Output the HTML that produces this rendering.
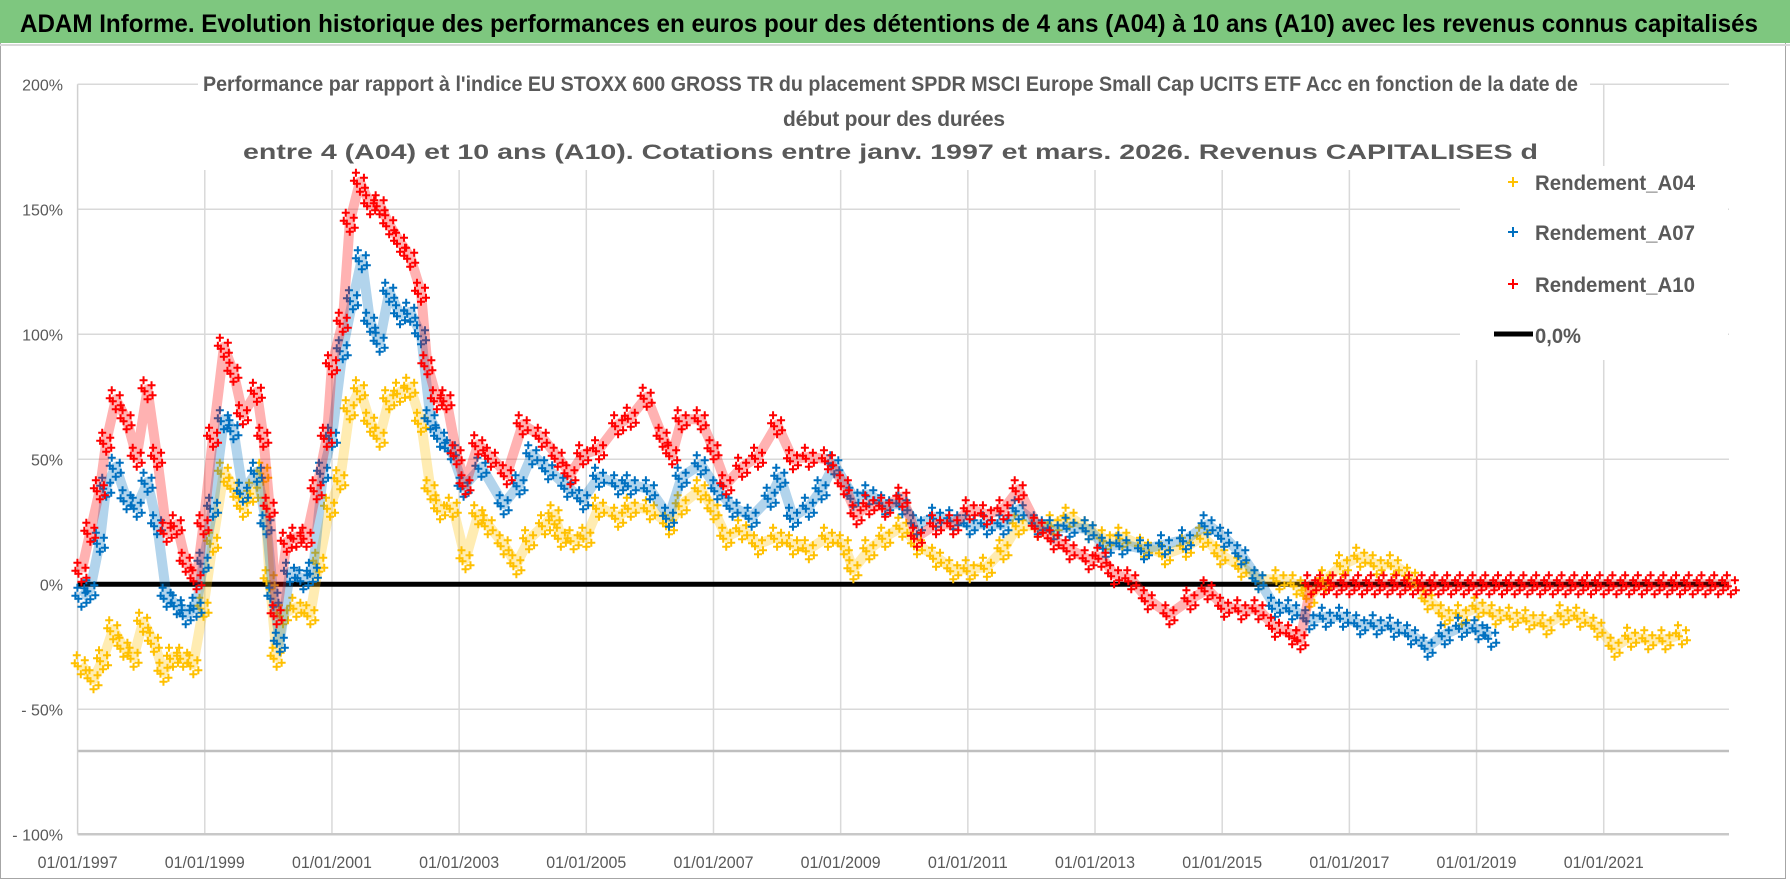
<!DOCTYPE html>
<html><head><meta charset="utf-8"><style>
html,body{margin:0;padding:0;background:#fff;}
svg{display:block;font-family:"Liberation Sans",sans-serif;}
</style></head><body>
<svg id="chart" width="1790" height="886" viewBox="0 0 1790 886">
<rect x="0" y="0" width="1790" height="886" fill="#fff"/>
<rect x="0.5" y="0.5" width="1785" height="878" fill="none" stroke="#a6a6a6"/>
<rect x="0" y="0" width="1790" height="43" fill="#7ec77f"/>
<line x1="0" y1="45" x2="1790" y2="45" stroke="#d9d9d9" stroke-width="2"/>
<text x="20" y="32" font-size="25" font-weight="bold" fill="#000" textLength="1738" lengthAdjust="spacingAndGlyphs">ADAM Informe. Evolution historique des performances en euros pour des détentions de 4 ans (A04) à 10 ans (A10) avec les revenus connus capitalisés</text>
<g id="grid"></g>
<g id="axes"></g>
<rect x="198" y="66" width="1392" height="104" fill="#fff"/>
<text x="203" y="91" font-size="21" font-weight="bold" fill="#595959" textLength="1375" lengthAdjust="spacingAndGlyphs">Performance par rapport à l'indice EU STOXX 600 GROSS TR du placement SPDR MSCI Europe Small Cap UCITS ETF Acc en fonction de la date de</text>
<text x="783" y="126" font-size="21" font-weight="bold" fill="#595959" textLength="222" lengthAdjust="spacing">début pour des durées</text>
<text x="243" y="159" font-size="21" font-weight="bold" fill="#595959" textLength="1295" lengthAdjust="spacingAndGlyphs">entre 4 (A04) et 10 ans (A10).  Cotations entre janv. 1997 et mars. 2026. Revenus CAPITALISES d</text>
<g id="series"></g>
<g id="legend">
<rect x="1460" y="166" width="268" height="194" fill="#fff"/>
<g><path d="M1508 182h10M1513 177v10" stroke="#ffc000" stroke-width="2"/><text x="1535" y="190" font-size="21" font-weight="bold" fill="#595959" textLength="160" lengthAdjust="spacingAndGlyphs">Rendement_A04</text></g>
<g><path d="M1508 232h10M1513 227v10" stroke="#0070c0" stroke-width="2"/><text x="1535" y="240" font-size="21" font-weight="bold" fill="#595959" textLength="160" lengthAdjust="spacingAndGlyphs">Rendement_A07</text></g>
<g><path d="M1508 284h10M1513 279v10" stroke="#ff0000" stroke-width="2"/><text x="1535" y="292" font-size="21" font-weight="bold" fill="#595959" textLength="160" lengthAdjust="spacingAndGlyphs">Rendement_A10</text></g>
<g><line x1="1494" y1="334" x2="1533" y2="334" stroke="#000" stroke-width="5"/><text x="1535" y="343" font-size="21" font-weight="bold" fill="#595959" textLength="46" lengthAdjust="spacingAndGlyphs">0,0%</text></g>
</g>
</svg>
<script>
const yTicks = [200,150,100,50,0,-50,-100];
const yTickLabels = ["200%","150%","100%","50%","0%","- 50%","- 100%"];
const xTicks = [1997,1999,2001,2003,2005,2007,2009,2011,2013,2015,2017,2019,2021];
const xTickLabels = ["01/01/1997","01/01/1999","01/01/2001","01/01/2003","01/01/2005","01/01/2007","01/01/2009","01/01/2011","01/01/2013","01/01/2015","01/01/2017","01/01/2019","01/01/2021"];
const a04Dates = [1997.05,1997.25,1997.4,1997.56,1997.72,1997.88,1998.03,1998.2,1998.35,1998.5,1998.66,1998.82,1998.98,1999.13,1999.3,1999.45,1999.6,1999.76,1999.92,2000.02,2000.13,2000.23,2000.44,2000.66,2000.8,2000.97,2001.13,2001.28,2001.44,2001.6,2001.75,2001.9,2002.07,2002.23,2002.4,2002.55,2002.7,2002.9,2003.1,2003.3,2003.45,2003.7,2003.9,2004.1,2004.35,2004.5,2004.6,2004.8,2005.0,2005.2,2005.5,2005.7,2006.0,2006.3,2006.5,2006.8,2007.0,2007.2,2007.45,2007.7,2008.0,2008.25,2008.5,2008.8,2009.05,2009.2,2009.45,2009.7,2009.97,2010.2,2010.5,2010.77,2011.03,2011.3,2011.56,2011.8,2012.1,2012.35,2012.6,2012.9,2013.17,2013.43,2013.77,2014.1,2014.43,2014.7,2014.97,2015.3,2015.57,2015.9,2016.17,2016.37,2016.63,2016.9,2017.17,2017.43,2017.7,2017.97,2018.23,2018.5,2018.77,2019.03,2019.3,2019.57,2019.83,2020.1,2020.37,2020.63,2020.9,2021.17,2021.43,2021.7,2021.97,2022.23];
const a04Values = [-32,-38,-30,-18,-25,-29,-15,-23,-35,-29,-29,-32,-9,17,45,39,31,37,45,2,-29,-12,-9,-12,9,31,42,70,78,65,59,74,77,79,65,38,30,31,10,28,24,16,8,18,24,28,19,18,19,31,27,31,30,24,32,38,30,19,22,16,19,16,14,19,16,6,14,19,23,16,11,6,6,7,14,24,23,24,27,22,18,19,15,12,15,19,12,7,2,2,0,-5,2,8,11,8,8,3,-6,-12,-12,-9,-12,-13,-14,-16,-12,-13,-17,-25,-21,-22,-22,-20];
const a07Dates = [1997.06,1997.2,1997.35,1997.45,1997.6,1997.77,1997.93,1998.1,1998.25,1998.4,1998.56,1998.7,1998.87,1998.98,1999.13,1999.3,1999.45,1999.6,1999.82,1999.97,2000.08,2000.18,2000.34,2000.55,2000.7,2000.86,2001.0,2001.17,2001.33,2001.47,2001.6,2001.75,2001.9,2002.07,2002.23,2002.4,2002.55,2002.7,2002.87,2003.07,2003.35,2003.7,2003.95,2004.15,2004.4,2004.7,2004.95,2005.2,2005.5,2005.7,2006.0,2006.3,2006.5,2006.8,2007.06,2007.3,2007.6,2007.9,2008.05,2008.25,2008.5,2008.7,2008.9,2009.2,2009.45,2009.7,2009.97,2010.2,2010.5,2010.77,2011.03,2011.3,2011.56,2011.8,2012.1,2012.35,2012.6,2012.9,2013.17,2013.43,2013.77,2014.1,2014.43,2014.77,2015.03,2015.3,2015.57,2015.83,2016.1,2016.37,2016.63,2016.9,2017.17,2017.43,2017.7,2017.97,2018.23,2018.5,2018.77,2019.03,2019.23];
const a07Values = [-5,-2,17,39,47,34,31,41,24,-5,-8,-12,-9,9,31,66,62,37,45,24,-5,-23,5,2,5,45,59,94,114,130,105,97,117,108,109,100,66,59,54,39,47,32,40,52,46,39,34,43,40,40,38,27,43,48,38,31,27,35,43,27,31,38,48,35,36,32,32,24,27,26,24,24,24,30,24,22,23,22,15,16,14,16,18,24,19,12,2,-9,-10,-14,-13,-13,-16,-16,-17,-20,-25,-20,-17,-18,-21];
const a10Dates = [1997.06,1997.2,1997.35,1997.45,1997.6,1997.77,1997.93,1998.1,1998.25,1998.4,1998.56,1998.7,1998.87,1998.98,1999.13,1999.3,1999.45,1999.6,1999.82,1999.92,2000.02,2000.13,2000.29,2000.44,2000.6,2000.76,2000.92,2001.0,2001.17,2001.28,2001.44,2001.6,2001.75,2001.9,2002.07,2002.23,2002.4,2002.5,2002.65,2002.8,2002.96,2003.1,2003.3,2003.5,2003.75,2004.0,2004.3,2004.55,2004.75,2004.95,2005.2,2005.5,2005.7,2005.95,2006.2,2006.35,2006.5,2006.8,2007.0,2007.2,2007.45,2007.7,2008.0,2008.25,2008.5,2008.8,2009.05,2009.25,2009.45,2009.7,2009.97,2010.2,2010.5,2010.77,2011.03,2011.3,2011.56,2011.8,2012.1,2012.35,2012.6,2012.9,2013.1,2013.3,2013.57,2013.83,2014.17,2014.5,2014.77,2015.03,2015.3,2015.57,2015.83,2016.1,2016.23,2016.4,2016.6,2016.8,2017.0,2017.2,2017.4,2017.6,2017.8,2018.0,2018.2,2018.4,2018.6,2018.8,2019.0,2019.2,2019.4,2019.6,2019.8,2020.0,2020.2,2020.4,2020.6,2020.8,2021.0,2021.2,2021.4,2021.6,2021.8,2022.0,2022.2,2022.4,2022.6,2022.8,2023.0];
const a10Values = [5,21,38,57,74,66,51,78,51,21,24,9,2,24,59,95,85,68,77,59,31,-12,17,19,19,38,59,88,105,145,161,152,152,144,137,131,117,88,74,74,52,40,56,51,44,64,59,51,44,52,54,64,67,75,59,52,66,66,54,40,47,51,64,50,51,50,40,28,32,31,35,19,24,24,30,28,30,38,23,18,14,10,11,4,2,-6,-12,-6,-2,-9,-10,-10,-17,-20,-22,0,0,0,0,0,0,0,0,0,0,0,0,0,0,0,0,0,0,0,0,0,0,0,0,0,0,0,0,0,0,0,0,0,0];
const zeroLineValue = [0];
const extraRefValue = [-66.7];

const NS = "http://www.w3.org/2000/svg";
const PL = 77.6, PR = 1729, PT = 84.3, PB = 834.3;
const X0 = 1997, X1 = 2022.97, Y0 = -100, Y1 = 200;
function xS(v){ return PL + (v - X0) / (X1 - X0) * (PR - PL); }
function yS(v){ return PB - (v - Y0) / (Y1 - Y0) * (PB - PT); }
function mk(tag, attrs, parent){ const e = document.createElementNS(NS, tag); for (const k in attrs) e.setAttribute(k, attrs[k]); parent.appendChild(e); return e; }

const grid = document.getElementById('grid');
const axes = document.getElementById('axes');
yTicks.forEach((t, i) => {
  if (t === -100) return;
  const gl = mk('line', {x1: PL, x2: PR, y1: yS(t), y2: yS(t), stroke: '#d9d9d9', 'stroke-width': 1.5}, grid);
  
  
});
xTicks.forEach((t, i) => {
  if (i === 0) return;
  const gl = mk('line', {x1: xS(t), x2: xS(t), y1: PT, y2: PB, stroke: '#d9d9d9', 'stroke-width': 1.5}, grid);
  
  
});
const ref = mk('line', {x1: PL, x2: PR, y1: yS(extraRefValue[0]), y2: yS(extraRefValue[0]), stroke: '#bfbfbf', 'stroke-width': 2.5}, axes);


const xa = mk('line', {x1: PL, x2: PR, y1: PB, y2: PB, stroke: '#c8c8c8', 'stroke-width': 2.5}, axes);


const ya = mk('line', {x1: PL, x2: PL, y1: PT, y2: PB, stroke: '#d0d0d0', 'stroke-width': 1.5}, axes);


yTicks.forEach((t, i) => {
  const tx = mk('text', {x: 63, y: yS(t) + 6, 'font-size': 16, fill: '#595959', 'text-anchor': 'end'}, axes);
  tx.textContent = yTickLabels[i];
  
  
});
xTicks.forEach((t, i) => {
  const tx = mk('text', {x: xS(t) - 40, y: 868, 'font-size': 17, fill: '#595959', textLength: 80, lengthAdjust: 'spacingAndGlyphs'}, axes);
  tx.textContent = xTickLabels[i];
  
  
});

const series = document.getElementById('series');
const zl = mk('line', {x1: PL, x2: PR, y1: yS(zeroLineValue[0]), y2: yS(zeroLineValue[0]), stroke: '#000', 'stroke-width': 5}, series);



const markOffsets = [[-4,-9],[4,-4],[-3,2],[5,6],[0,10],[-6,-1]];
function drawSeries(dates, values, color, name){
  const g = mk('g', {}, series);
  
  
  const pts = dates.map((d, i) => xS(d).toFixed(1) + ',' + yS(values[i]).toFixed(1)).join(' ');
  const band = mk('polyline', {points: pts, fill: 'none', stroke: color, 'stroke-width': 10, 'stroke-opacity': 0.3, 'stroke-linejoin': 'round'}, g);
  
  
  dates.forEach((d, i) => {
    const cx = xS(d), cy = yS(values[i]);
    markOffsets.forEach(o => {
      const p = mk('path', {d: `M${cx+o[0]-4} ${cy+o[1]}h8M${cx+o[0]} ${cy+o[1]-4}v8`, stroke: color, 'stroke-width': 2}, g);
      
      
    });
  });
}
drawSeries(a04Dates, a04Values, '#ffc000', 'series-a04');
drawSeries(a07Dates, a07Values, '#0070c0', 'series-a07');
drawSeries(a10Dates, a10Values, '#ff0000', 'series-a10');
document.getElementById('chart').appendChild(document.getElementById('legend'));
</script>
</body></html>
